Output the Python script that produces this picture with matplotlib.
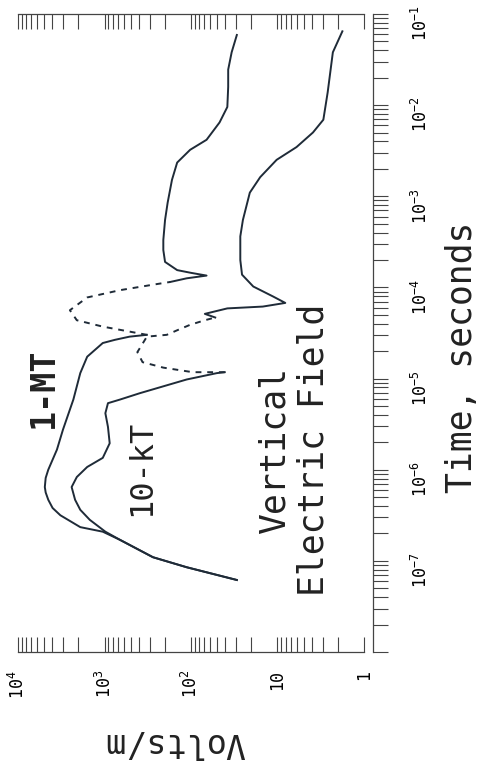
import matplotlib
matplotlib.use('Agg')
import matplotlib.pyplot as plt
import numpy as np
from matplotlib.ticker import LogLocator, NullFormatter

# values as log10(time / s) and log10(field / V/m)
mt_lower_logt = [-7.21, -7.07, -6.96, -6.77, -6.68, -6.63, -6.50, -6.42, -6.33, -6.25, -6.19,
                 -6.09, -6.00, -5.78, -5.56, -5.34, -5.23, -4.94, -4.76, -4.61, -4.575, -4.54, -4.52]
mt_lower_logv = [1.47, 2.05, 2.44, 2.82, 3.02, 3.28, 3.51, 3.60, 3.65, 3.68, 3.69,
                 3.68, 3.65, 3.55, 3.48, 3.40, 3.36, 3.28, 3.20, 3.02, 2.88, 2.71, 2.51]
mt_dash_logt = [-4.52, -4.43, -4.36, -4.25, -4.11, -4.03, -3.97, -3.94]
mt_dash_logv = [2.51, 3.02, 3.32, 3.40, 3.20, 2.82, 2.44, 2.24]
mt_upper_logt = [-3.94, -3.90, -3.87, -3.84, -3.81, -3.72, -3.59, -3.48, -3.26, -3.07,
                 -2.82, -2.63, -2.49, -2.38, -2.19, -2.02, -1.80, -1.61, -1.42, -1.23]
mt_upper_logv = [2.24, 2.05, 1.82, 2.00, 2.16, 2.30, 2.32, 2.32, 2.30, 2.27,
                 2.22, 2.16, 2.01, 1.82, 1.67, 1.58, 1.57, 1.57, 1.53, 1.47]

kt_lower_logt = [-7.21, -7.07, -6.96, -6.77, -6.68, -6.55, -6.44, -6.33, -6.19, -6.08, -5.97,
                 -5.87, -5.71, -5.53, -5.38, -5.27, -5.23, -5.16, -5.01, -4.94, -4.93]
kt_lower_logv = [1.47, 2.05, 2.44, 2.82, 2.99, 3.17, 3.28, 3.34, 3.38, 3.32, 3.20,
                 3.02, 2.94, 2.96, 2.99, 2.96, 2.82, 2.59, 2.05, 1.70, 1.61]
kt_dash_logt = [-4.93, -4.93, -4.88, -4.82, -4.71, -4.54, -4.52, -4.47, -4.41, -4.36, -4.33]
kt_dash_logv = [1.61, 1.98, 2.32, 2.56, 2.62, 2.51, 2.28, 2.16, 2.01, 1.84, 1.72]
kt_upper_logt = [-4.33, -4.29, -4.23, -4.21, -4.17, -4.10, -3.99, -3.86, -3.70, -3.44,
                 -3.26, -2.96, -2.79, -2.60, -2.46, -2.30, -2.16, -1.86, -1.64, -1.42, -1.19]
kt_upper_logv = [1.72, 1.84, 1.58, 1.17, 0.91, 1.05, 1.28, 1.41, 1.43, 1.43,
                 1.40, 1.32, 1.20, 1.01, 0.78, 0.59, 0.47, 0.42, 0.39, 0.36, 0.25]

volt_ticks = [1e4, 1e3, 1e2, 10, 1]
volt_labels = ['10$^4$', '10$^3$', '10$^2$', '10', '1']
time_ticks = [1e-8, 1e-7, 1e-6, 1e-5, 1e-4, 1e-3, 1e-2, 1e-1]
time_labels = ['', '10$^{-7}$', '10$^{-6}$', '10$^{-5}$', '10$^{-4}$',
               '10$^{-3}$', '10$^{-2}$', '10$^{-1}$']

plt.rcParams['font.family'] = ['DejaVu Sans Mono']
plt.rcParams['mathtext.fontset'] = 'custom'
plt.rcParams['mathtext.rm'] = 'DejaVu Sans Mono'
plt.rcParams['mathtext.it'] = 'DejaVu Sans Mono'

ink = '#1f2b38'
W, H = 483.0, 770.0

fig = plt.figure(figsize=(4.83, 7.70), dpi=100)
ax = fig.add_axes([18 / W, 1 - 652 / H, (364 - 18) / W, (652 - 14) / H])

# the page is turned: field runs right-to-left, time runs upward
segments = [(mt_lower_logt, mt_lower_logv, '-'), (mt_dash_logt, mt_dash_logv, (0, (3, 3))),
            (mt_upper_logt, mt_upper_logv, '-'),
            (kt_lower_logt, kt_lower_logv, '-'), (kt_dash_logt, kt_dash_logv, (0, (3, 3))),
            (kt_upper_logt, kt_upper_logv, '-')]
for lt, lv, ls in segments:
    ax.plot(10 ** np.array(lv), 10 ** np.array(lt), color=ink, lw=1.4, ls=ls,
            solid_joinstyle='round')

ax.set_xscale('log')
ax.set_yscale('log')
ax.set_xlim(1e4, 1)
ax.set_ylim(1e-8, 1e-1)

ax.spines['left'].set_visible(False)
ax.spines['right'].set_position(('outward', 6.5))
for s in ['top', 'bottom', 'right']:
    ax.spines[s].set_color('#444444')
    ax.spines[s].set_linewidth(0.9)

ax.set_xticks(volt_ticks, volt_labels)
ax.xaxis.set_minor_locator(LogLocator(base=10, subs=np.arange(2, 10), numticks=20))
ax.xaxis.set_minor_formatter(NullFormatter())
ax.tick_params(axis='x', which='both', direction='in', length=10.5, width=0.8,
               color='#444444', top=True, bottom=True, labelbottom=True, labeltop=False)
ax.tick_params(axis='x', which='major', pad=13, labelsize=12, labelrotation=90)

ax.yaxis.set_ticks_position('right')
ax.set_yticks(time_ticks, time_labels)
ax.yaxis.set_minor_locator(LogLocator(base=10, subs=np.arange(2, 10), numticks=20))
ax.yaxis.set_minor_formatter(NullFormatter())
ax.tick_params(axis='y', which='both', direction='out', length=10.5, width=0.8,
               color='#444444', left=False, right=True, labelleft=False, labelright=True)
ax.tick_params(axis='y', which='major', pad=17, labelsize=12, labelrotation=90)


def put(x, y, s, **kw):
    fig.text(x / W, 1 - y / H, s, ha='center', va='center', color='#222222', **kw)


put(43, 388, '1-MT', rotation=90, fontsize=24, fontweight='bold')
put(142, 468, '10-kT', rotation=90, fontsize=23)
put(294, 450, 'Vertical\nElectric Field', rotation=90, fontsize=25,
    multialignment='center', linespacing=1.2)
put(462, 357, 'Time, seconds', rotation=90, fontsize=25)
put(175, 743, 'Volts/m', rotation=180, fontsize=24)

fig.savefig('out.png', dpi=100, facecolor='white')
